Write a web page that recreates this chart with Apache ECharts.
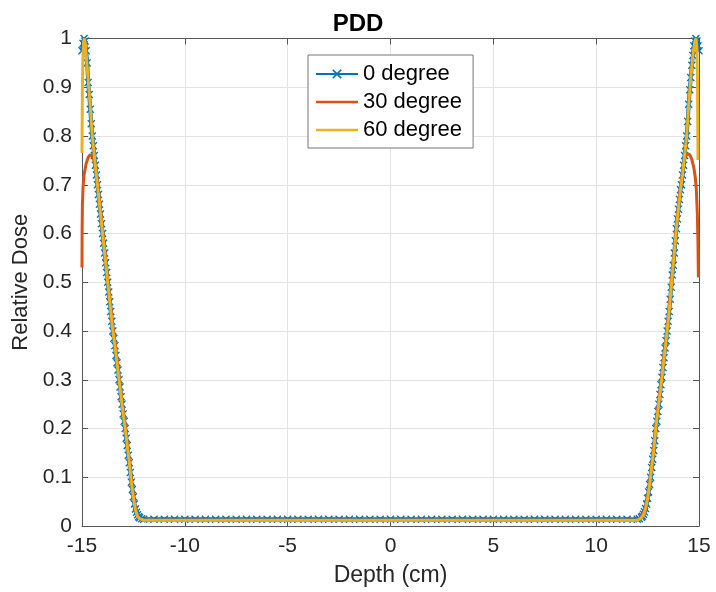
<!DOCTYPE html>
<html><head><meta charset="utf-8">
<script src="https://cdn.jsdelivr.net/npm/echarts@6/dist/echarts.min.js"></script>
<style>html,body{margin:0;padding:0;background:#fff}#chart{width:716px;height:592px}</style>
</head><body><div id="chart"></div>
<script>
const titleText = 'PDD';
const seriesNames = ['0 degree', '30 degree', '60 degree'];
const xTicks = [-15, -10, -5, 0, 5, 10, 15];
const yTicks = [0, 0.1, 0.2, 0.3, 0.4, 0.5, 0.6, 0.7, 0.8, 0.9, 1];

// 0 degree (blue, x markers)
const depth0 = [
  -15,-14.95,-14.9,-14.85,-14.8,-14.75,-14.7,-14.65,-14.6,-14.55,-14.5,-14.45,-14.4,-14.35,-14.3,-14.25,-14.2,-14.15,-14.1,-14.05,
  -14,-13.95,-13.9,-13.85,-13.8,-13.75,-13.7,-13.65,-13.6,-13.55,-13.5,-13.45,-13.4,-13.35,-13.3,-13.25,-13.2,-13.15,-13.1,-13.05,
  -13,-12.95,-12.9,-12.85,-12.8,-12.75,-12.7,-12.65,-12.6,-12.55,-12.5,-12.45,-12.4,-12.35,-12.3,-12.25,-12.2,-12.1,-12,
  -11.5,-11,-10.5,-10,-9.5,-9,-8.5,-8,-7.5,-7,-6.5,-6,-5.5,-5,-4.5,-4,-3.5,-3,-2.5,-2,-1.5,-1,-0.5,0,
  0.5,1,1.5,2,2.5,3,3.5,4,4.5,5,5.5,6,6.5,7,7.5,8,8.5,9,9.5,10,10.5,11,11.5,
  12,12.1,12.2,12.25,12.3,12.35,12.4,12.45,12.5,12.55,12.6,12.65,12.7,12.75,12.8,12.85,12.9,12.95,
  13,13.05,13.1,13.15,13.2,13.25,13.3,13.35,13.4,13.45,13.5,13.55,13.6,13.65,13.7,13.75,13.8,13.85,13.9,13.95,
  14,14.05,14.1,14.15,14.2,14.25,14.3,14.35,14.4,14.45,14.5,14.55,14.6,14.65,14.7,14.75,14.8,14.85,14.9,14.95,15
];
const dose0 = [
  0.975,0.99,1.0,0.995,0.975,0.95,0.91,0.885,0.855,0.825,0.80,0.78,0.76,0.74,0.72,0.70,0.68,0.66,0.64,0.62,
  0.60,0.58,0.56,0.54,0.52,0.50,0.48,0.46,0.44,0.42,0.40,0.385,0.37,0.35,0.335,0.32,0.30,0.285,0.265,0.25,
  0.23,0.215,0.20,0.18,0.165,0.145,0.13,0.11,0.09,0.075,0.06,0.045,0.035,0.028,0.023,0.019,0.017,0.015,0.014,
  0.014,0.014,0.014,0.014,0.014,0.014,0.014,0.014,0.014,0.014,0.014,0.014,0.014,0.014,0.014,0.014,0.014,0.014,0.014,0.014,0.014,0.014,0.014,0.014,
  0.014,0.014,0.014,0.014,0.014,0.014,0.014,0.014,0.014,0.014,0.014,0.014,0.014,0.014,0.014,0.014,0.014,0.014,0.014,0.014,0.014,0.014,0.014,
  0.014,0.015,0.018,0.02,0.024,0.029,0.036,0.045,0.057,0.07,0.085,0.10,0.12,0.137,0.155,0.175,0.2,0.215,
  0.235,0.25,0.27,0.29,0.305,0.325,0.345,0.365,0.38,0.40,0.42,0.44,0.465,0.49,0.515,0.535,0.56,0.585,0.61,0.63,
  0.65,0.67,0.69,0.70,0.72,0.74,0.76,0.78,0.8,0.83,0.865,0.895,0.92,0.945,0.965,0.985,0.995,1.0,0.995,0.985,0.975
];

// 30 degree (orange)
const depth30 = [
  -15,-14.995,-14.98,-14.95,-14.9,-14.8,-14.7,-14.6,-14.53,-14.45,-14.4,-14.35,-14.3,
  -14.2,-14.1,-14,-13.9,-13.8,-13.7,-13.6,-13.5,-13.4,-13.3,-13.2,-13.1,-13,-12.9,-12.8,-12.7,-12.6,-12.5,-12.4,-12.3,-12.2,
  -12,-11.8,-5,0,5,11.8,12,
  12.1,12.2,12.3,12.4,12.5,12.6,12.7,12.8,12.9,13,13.1,13.2,13.3,13.4,13.5,13.6,13.7,13.8,13.9,14,14.1,14.2,14.3,14.4,
  14.48,14.55,14.65,14.75,14.82,14.87,14.92,14.95,14.97
];
const dose30 = [
  0.53,0.60,0.66,0.695,0.72,0.743,0.756,0.762,0.763,0.755,0.745,0.732,0.722,
  0.688,0.648,0.608,0.568,0.528,0.488,0.448,0.408,0.378,0.343,0.308,0.273,0.238,0.207,0.172,0.137,0.097,0.063,0.036,0.021,0.015,
  0.012,0.012,0.012,0.012,0.012,0.012,0.012,
  0.015,0.02,0.027,0.04,0.062,0.09,0.127,0.162,0.207,0.242,0.277,0.312,0.352,0.387,0.427,0.472,0.522,0.567,0.617,0.657,0.697,0.727,0.752,0.763,
  0.765,0.762,0.752,0.735,0.715,0.69,0.64,0.58,0.51
];

// 60 degree (yellow)
const depth60 = [
  -15,-14.98,-14.95,-14.92,-14.88,-14.84,-14.8,
  -14.7,-14.6,-14.5,-14.4,-14.3,-14.2,-14.1,-14,-13.9,-13.8,-13.7,-13.6,-13.5,-13.4,-13.3,-13.2,-13.1,-13,-12.9,-12.8,-12.7,-12.6,-12.5,-12.4,-12.3,-12.2,
  -12,-11.8,-5,0,5,11.8,12,
  12.1,12.2,12.3,12.4,12.5,12.6,12.7,12.8,12.9,13,13.1,13.2,13.3,13.4,13.5,13.6,13.7,13.8,13.9,14,14.1,14.2,14.3,14.4,14.5,14.6,14.7,14.8,
  14.86,14.9,14.93,14.95
];
const dose60 = [
  0.765,0.9,0.97,0.995,1.0,0.99,0.97,
  0.915,0.86,0.80,0.76,0.72,0.68,0.64,0.60,0.56,0.52,0.48,0.44,0.40,0.37,0.335,0.30,0.265,0.23,0.20,0.165,0.13,0.09,0.058,0.033,0.02,0.015,
  0.012,0.012,0.012,0.012,0.012,0.012,0.012,
  0.014,0.017,0.023,0.035,0.056,0.084,0.12,0.155,0.2,0.235,0.27,0.305,0.345,0.38,0.42,0.465,0.515,0.56,0.61,0.65,0.69,0.72,0.76,0.80,0.865,0.92,0.965,0.995,
  1.0,0.98,0.9,0.751
];

const zip = (xs, ys) => xs.map((x, i) => [x, ys[i]]);
const FONT = '"Liberation Sans", Arial, Helvetica, sans-serif';
const xMark = 'path://M0,1.2L1.2,0L5,3.8L8.8,0L10,1.2L6.2,5L10,8.8L8.8,10L5,6.2L1.2,10L0,8.8L3.8,5Z';
// plain line icon for legend (42x12 bounding box, horizontal bar in the middle)
const barIcon = 'path://M0,0L0.01,0L0,0.01ZM42,12L41.99,12L42,11.99ZM0,4.8L42,4.8L42,7.2L0,7.2Z';

const chart = echarts.init(document.getElementById('chart'), null, {renderer: 'canvas'});
const axisCommon = {
  type: 'value',
  axisLine: {show: true, onZero: false, lineStyle: {color: '#555', width: 1}},
  axisTick: {show: true, inside: true, length: 6, lineStyle: {color: '#555'}},
};
chart.setOption({
  animation: false,
  backgroundColor: '#fff',
  title: {
    text: titleText, left: 'center', top: 7,
    textStyle: {fontFamily: FONT, fontSize: 24, fontWeight: 'bold', color: '#000'}
  },
  legend: {
    data: [
      {name: seriesNames[0]},
      {name: seriesNames[1], icon: barIcon},
      {name: seriesNames[2], icon: barIcon}
    ],
    orient: 'vertical',
    left: 308, top: 55,
    padding: [8, 11, 7, 7],
    itemWidth: 42, itemHeight: 12, itemGap: 6,
    backgroundColor: '#fff',
    borderColor: '#777', borderWidth: 1,
    textStyle: {fontFamily: FONT, fontSize: 22, color: '#000'}
  },
  grid: {left: 82, right: 17, top: 38.5, bottom: 65, containLabel: false},
  xAxis: [
    Object.assign({}, axisCommon, {
      min: xTicks[0], max: xTicks[xTicks.length - 1], interval: 5,
      position: 'bottom',
      name: 'Depth (cm)', nameLocation: 'middle', nameGap: 38,
      nameTextStyle: {fontFamily: FONT, fontSize: 23, color: '#262626'},
      axisLabel: {fontFamily: FONT, fontSize: 21, color: '#262626', margin: 10},
      splitLine: {show: true, lineStyle: {color: '#e3e3e3', width: 1}}
    }),
    Object.assign({}, axisCommon, {
      min: xTicks[0], max: xTicks[xTicks.length - 1], interval: 5,
      position: 'top', axisLabel: {show: false}, splitLine: {show: false}
    })
  ],
  yAxis: [
    Object.assign({}, axisCommon, {
      min: yTicks[0], max: yTicks[yTicks.length - 1], interval: 0.1,
      position: 'left',
      name: 'Relative Dose', nameLocation: 'middle', nameGap: 44,
      nameTextStyle: {fontFamily: FONT, fontSize: 22, color: '#262626'},
      axisLabel: {fontFamily: FONT, fontSize: 21, color: '#262626', margin: 10,
        formatter: v => String(+v.toFixed(1))},
      splitLine: {show: true, lineStyle: {color: '#e3e3e3', width: 1}}
    }),
    Object.assign({}, axisCommon, {
      min: yTicks[0], max: yTicks[yTicks.length - 1], interval: 0.1,
      position: 'right', axisLabel: {show: false}, splitLine: {show: false}
    })
  ],
  series: [
    {
      name: seriesNames[0], type: 'line', xAxisIndex: 0, yAxisIndex: 0,
      data: zip(depth0, dose0),
      symbol: xMark, symbolSize: 8, showSymbol: true, showAllSymbol: true,
      color: '#0072BD',
      itemStyle: {color: '#0072BD'},
      lineStyle: {color: '#0072BD', width: 4},
      z: 2
    },
    {
      name: seriesNames[1], type: 'line', xAxisIndex: 0, yAxisIndex: 0,
      data: zip(depth30, dose30),
      symbol: 'none', color: '#D95319',
      lineStyle: {color: '#D95319', width: 3},
      z: 3
    },
    {
      name: seriesNames[2], type: 'line', xAxisIndex: 0, yAxisIndex: 0,
      data: zip(depth60, dose60),
      symbol: 'none', color: '#EDB120',
      lineStyle: {color: '#EDB120', width: 3},
      z: 4
    }
  ]
});
</script>
</body></html>
